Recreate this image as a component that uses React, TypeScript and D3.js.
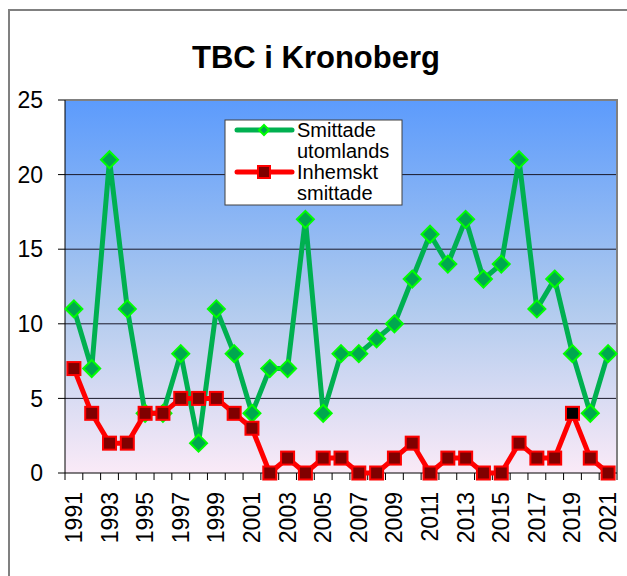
import React from "react";
import * as d3 from "d3";

const years: string[] = d3.range(1991, 2022).map(String);
const utomlands: number[] = [11, 7, 21, 11, 4, 4, 8, 2, 11, 8, 4, 7, 7, 17, 4, 8, 8, 9, 10, 13, 16, 14, 17, 13, 14, 21, 11, 13, 8, 4, 8];
const inhemskt: number[] = [7, 4, 2, 2, 4, 4, 5, 5, 5, 4, 3, 0, 1, 0, 1, 1, 0, 0, 1, 2, 0, 1, 1, 0, 0, 2, 1, 1, 4, 1, 0];
const yTicks: number[] = [0, 5, 10, 15, 20, 25];
const xLabels: string[] = years.filter((_, i) => i % 2 === 0);
const title = "TBC i Kronoberg";
const legend1 = ["Smittade", "utomlands"];
const legend2 = ["Inhemskt", "smittade"];

const W = 627, H = 576;
const L = 65, T = 100, R = 617, B = 473;
const font = "'Liberation Sans', Arial, sans-serif";

export default function App() {
  const x = d3.scaleBand<string>().domain(years).range([L, R]).padding(0);
  const y = d3.scaleLinear().domain([0, 25]).range([B, T]);
  const cx = (yr: string) => (x(yr) as number) + x.bandwidth() / 2;
  const line = d3.line<number>().x((_, i) => cx(years[i])).y((d) => y(d));
  const boundaries = d3.range(years.length + 1).map((i) => L + i * x.bandwidth());
  const dia = (px: number, py: number, r: number) =>
    `M${px},${py - r}L${px + r},${py}L${px},${py + r}L${px - r},${py}Z`;

  return (
    <svg width={W} height={H} style={{ position: "absolute", left: 0, top: 0, background: "#fff" }} fontFamily={font}>
      <defs>
        <linearGradient id="bg" x1="0" y1="0" x2="0" y2="1">
          <stop offset="0" stopColor="#5C9BFC" />
          <stop offset="0.55" stopColor="#AFCAEE" />
          <stop offset="1" stopColor="#FAEAF7" />
        </linearGradient>
      </defs>
      <rect x={9} y={10} width={800} height={800} fill="#fff" stroke="#808080" strokeWidth={2} />
      <text x={316} y={68} textAnchor="middle" fontSize={31} fontWeight="bold" fill="#000">{title}</text>
      <rect x={L} y={T} width={R - L} height={B - T} fill="url(#bg)" />
      {yTicks.filter((t) => t > 0 && t < 25).map((t) => (
        <line key={t} x1={L} x2={R} y1={y(t)} y2={y(t)} stroke="#1a1a2a" strokeWidth={1} />
      ))}
      <path d={`M${L},${T}H${R}V${B}`} fill="none" stroke="#808080" strokeWidth={2} />
      <line x1={L} x2={L} y1={T} y2={B} stroke="#000" />
      <line x1={L} x2={R} y1={B} y2={B} stroke="#000" />
      {yTicks.map((t) => (
        <g key={t}>
          <line x1={L - 7} x2={L} y1={y(t)} y2={y(t)} stroke="#000" />
          <text x={43} y={y(t)} dy="0.36em" textAnchor="end" fontSize={23}>{t}</text>
        </g>
      ))}
      {boundaries.map((bx, i) => (
        <line key={i} x1={bx} x2={bx} y1={B} y2={B + 7} stroke="#000" />
      ))}
      {xLabels.map((yr) => (
        <text key={yr} transform={`translate(${cx(yr) + 8},${492}) rotate(-90)`} textAnchor="end" fontSize={23}>{yr}</text>
      ))}
      <path d={line(utomlands) || ""} fill="none" stroke="#00B050" strokeWidth={5} strokeLinejoin="round" />
      {utomlands.map((v, i) => (
        <path key={i} d={dia(cx(years[i]), y(v), 8.5)} fill="#00A84F" stroke="#00FF00" strokeWidth={2} />
      ))}
      <path d={line(inhemskt) || ""} fill="none" stroke="#FF0000" strokeWidth={5} strokeLinejoin="round" />
      {inhemskt.map((v, i) => (
        <rect key={i} x={cx(years[i]) - 6.5} y={y(v) - 6.5} width={13} height={13}
          fill={years[i] === "2019" ? "#000" : "#800000"} stroke="#FF0000" strokeWidth={2} />
      ))}
      <g>
        <rect x={225} y={120} width={177} height={85} fill="#fff" stroke="#404040" strokeWidth={1} />
        <line x1={237} x2={292} y1={130} y2={130} stroke="#00B050" strokeWidth={5} strokeLinecap="round" />
        <path d={dia(264, 130, 5)} fill="#00A84F" stroke="#00FF00" strokeWidth={2} />
        <line x1={237} x2={292} y1={172} y2={172} stroke="#FF0000" strokeWidth={5} strokeLinecap="round" />
        <rect x={258} y={166} width={12} height={12} fill="#800000" stroke="#FF0000" strokeWidth={2} />
        <text x={297} y={137} fontSize={20}>{legend1[0]}</text>
        <text x={297} y={158} fontSize={20}>{legend1[1]}</text>
        <text x={297} y={179} fontSize={20}>{legend2[0]}</text>
        <text x={297} y={200} fontSize={20}>{legend2[1]}</text>
      </g>
    </svg>
  );
}
